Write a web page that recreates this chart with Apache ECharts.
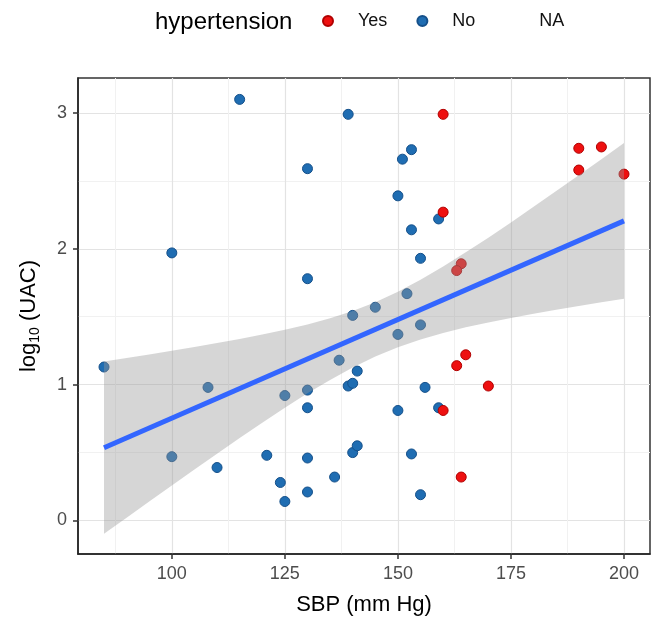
<!DOCTYPE html>
<html>
<head>
<meta charset="utf-8">
<script src="https://cdn.jsdelivr.net/npm/echarts@6/dist/echarts.min.js"></script>
<style>
html,body{margin:0;padding:0;background:#fff;}
#chart{width:656px;height:621px;}
</style>
</head>
<body>
<div id="chart"></div>
<script>
// ---- data ----
const yesX = [160, 190, 195, 190, 200, 160, 164, 163, 165, 163, 170, 160, 164];
const yesY = [2.99, 2.74, 2.75, 2.58, 2.55, 2.27, 1.89, 1.84, 1.22, 1.14, 0.99, 0.81, 0.32];

const noX = [115, 139, 130, 100, 130, 153, 151, 150, 159, 153, 155, 152, 145, 140, 85, 137, 141, 108, 130, 125,
             139, 140, 130, 100, 110, 121, 130, 124, 125, 130, 136, 140, 141, 150, 155, 156, 150, 159, 153, 155];
const noY = [3.10, 2.99, 2.59, 1.97, 1.78, 2.73, 2.66, 2.39, 2.22, 2.14, 1.93, 1.67, 1.57, 1.51, 1.13, 1.18, 1.10, 0.98, 0.96, 0.92,
             0.99, 1.01, 0.83, 0.47, 0.39, 0.48, 0.46, 0.28, 0.14, 0.21, 0.32, 0.50, 0.55, 1.37, 1.44, 0.98, 0.81, 0.83, 0.49, 0.19];

const fitX = [85, 200];
const fitY = [0.536, 2.206];

const bandX  = [85, 90, 95, 100, 105, 110, 115, 120, 125, 130, 135, 140, 145, 150, 155, 160, 165, 170, 175, 180, 185, 190, 195, 200];
const bandLo = [-0.098, 0.021, 0.140, 0.258, 0.376, 0.492, 0.607, 0.720, 0.830, 0.936, 1.035, 1.127, 1.207, 1.276, 1.333, 1.381, 1.422, 1.458, 1.491, 1.522, 1.551, 1.580, 1.607, 1.633];
const bandHi = [1.170, 1.196, 1.222, 1.249, 1.277, 1.306, 1.336, 1.369, 1.404, 1.443, 1.489, 1.543, 1.607, 1.684, 1.772, 1.870, 1.974, 2.082, 2.194, 2.309, 2.425, 2.542, 2.660, 2.779];

const xTicks = [100, 125, 150, 175, 200];
const xMinor = [87.5, 112.5, 137.5, 162.5, 187.5];
const yTicks = [0, 1, 2, 3];
const yMinor = [0.5, 1.5, 2.5];

const legendNames = ['Yes', 'No', 'NA'];
const legendTitle = 'hypertension';

// ---- chart ----
const FONT = '"Liberation Sans", Arial, Helvetica, sans-serif';
const chart = echarts.init(document.getElementById('chart'), null, {renderer: 'canvas'});

const toPairs = (xs, ys) => xs.map((x, i) => [x, ys[i]]);

const option = {
  animation: false,
  backgroundColor: '#fff',
  title: {
    text: legendTitle, left: 155, top: 10, padding: 0,
    textStyle: {fontFamily: FONT, fontSize: 24, fontWeight: 'normal', color: '#000'}
  },
  legend: {
    left: 322, top: 12, padding: 0,
    itemWidth: 10, itemHeight: 10, itemGap: 29,
    icon: 'circle',
    data: legendNames,
    textStyle: {fontFamily: FONT, fontSize: 18, color: '#111', padding: [0, 0, 0, 20]},
    selectedMode: false
  },
  grid: {
    left: 78, top: 78, width: 572, height: 479,
    show: true, borderColor: '#333', borderWidth: 1.5, backgroundColor: '#fff'
  },
  xAxis: [{
    type: 'value', min: 79.25, max: 205.75,
    name: 'SBP (mm Hg)', nameLocation: 'middle', nameGap: 40,
    nameTextStyle: {fontFamily: FONT, fontSize: 22, color: '#000'},
    axisLine: {show: true, onZero: false, lineStyle: {color: '#222', width: 1.5}},
    axisTick: {show: true, length: 5, lineStyle: {color: '#333', width: 1.5}, customValues: xTicks},
    axisLabel: {fontFamily: FONT, fontSize: 18, color: '#4d4d4d', margin: 11, customValues: xTicks},
    splitLine: {show: true, lineStyle: {color: '#e3e3e3', width: 1.2}}
  }, {
    type: 'value', min: 79.25, max: 205.75, position: 'top', gridIndex: 0,
    axisLine: {show: false, onZero: false}, axisTick: {show: false, customValues: xMinor},
    axisLabel: {show: false, customValues: xMinor},
    splitLine: {show: true, lineStyle: {color: '#f1f1f1', width: 1}}
  }],
  yAxis: [{
    type: 'value', min: -0.2465, max: 3.2575,
    name: '{a|log}{s|10}{a| (UAC)}', nameLocation: 'middle', nameGap: 36,
    nameTextStyle: {
      fontFamily: FONT, color: '#000',
      rich: {
        a: {fontFamily: FONT, fontSize: 22, color: '#000', lineHeight: 26},
        s: {fontFamily: FONT, fontSize: 14, color: '#000', lineHeight: 14, verticalAlign: 'bottom'}
      }
    },
    axisLine: {show: true, onZero: false, lineStyle: {color: '#222', width: 1.5}},
    axisTick: {show: true, length: 5, lineStyle: {color: '#333', width: 1.5}, customValues: yTicks},
    axisLabel: {fontFamily: FONT, fontSize: 18, color: '#4d4d4d', margin: 11, customValues: yTicks},
    splitLine: {show: true, lineStyle: {color: '#e3e3e3', width: 1.2}}
  }, {
    type: 'value', min: -0.2465, max: 3.2575, position: 'right', gridIndex: 0,
    axisLine: {show: false, onZero: false}, axisTick: {show: false, customValues: yMinor},
    axisLabel: {show: false, customValues: yMinor},
    splitLine: {show: true, lineStyle: {color: '#f1f1f1', width: 1}}
  }],
  series: [
    {
      name: 'No', type: 'scatter', z: 2, symbolSize: 10,
      itemStyle: {color: '#1f6db2', borderColor: '#15508a', borderWidth: 1, opacity: 1},
      data: toPairs(noX, noY)
    },
    {
      name: 'Yes', type: 'scatter', z: 2, symbolSize: 10,
      itemStyle: {color: '#ee1010', borderColor: '#b00000', borderWidth: 1, opacity: 1},
      data: toPairs(yesX, yesY)
    },
    {
      name: 'NA', type: 'scatter', z: 2, symbolSize: 10,
      itemStyle: {color: 'rgba(0,0,0,0)'},
      data: []
    },
    {
      name: 'band', type: 'custom', z: 3, silent: true,
      data: [[bandX[0], bandLo[0]]],
      renderItem: function (params, api) {
        const pts = [];
        for (let i = 0; i < bandX.length; i++) pts.push(api.coord([bandX[i], bandHi[i]]));
        for (let i = bandX.length - 1; i >= 0; i--) pts.push(api.coord([bandX[i], bandLo[i]]));
        return {type: 'polygon', shape: {points: pts}, style: {fill: 'rgba(153,153,153,0.4)'}};
      }
    },
    {
      name: 'fit', type: 'line', z: 4, silent: true, symbol: 'none',
      lineStyle: {color: '#3366ff', width: 5},
      data: toPairs(fitX, fitY)
    }
  ]
};
chart.setOption(option);
</script>
</body>
</html>
